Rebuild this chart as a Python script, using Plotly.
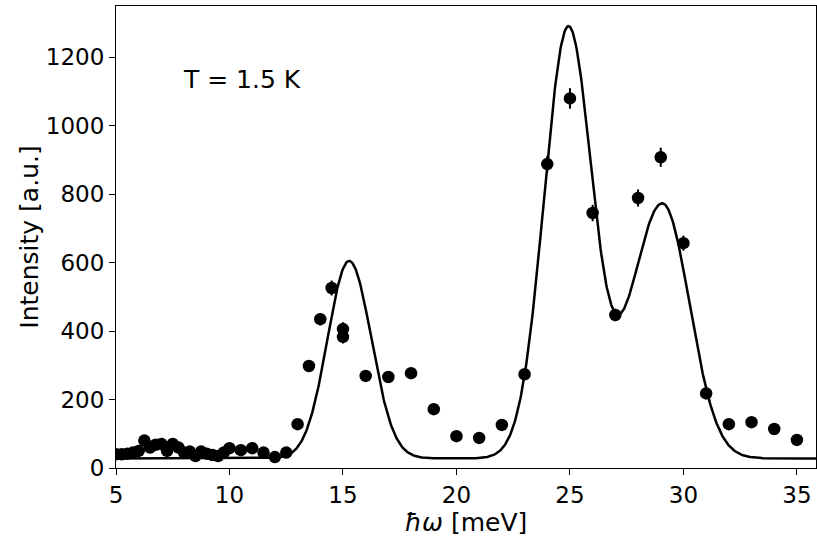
import numpy as np
import plotly.graph_objects as go

# Measured data (energy transfer in meV, intensity in a.u., error)
energy = [5.0, 5.25, 5.5, 5.75, 6.0, 6.25, 6.5, 6.75, 7.0, 7.25, 7.5, 7.75,
          8.0, 8.25, 8.5, 8.75, 9.0, 9.25, 9.5, 9.75, 10.0, 10.5, 11.0, 11.5,
          12.0, 12.5, 13.0, 13.5, 14.0, 14.5, 15.0, 15.0, 16.0, 17.0, 18.0,
          19.0, 20.0, 21.0, 22.0, 23.0, 24.0, 25.0, 26.0, 27.0, 28.0, 29.0,
          30.0, 31.0, 32.0, 33.0, 34.0, 35.0]
intensity = [40, 40, 42, 45, 50, 80, 60, 68, 70, 50, 70, 60,
             45, 48, 35, 48, 42, 38, 35, 45, 58, 52, 58, 45,
             32, 45, 128, 298, 435, 526, 406, 383, 269, 266, 277,
             172, 93, 88, 126, 274, 888, 1080, 745, 447, 789, 908,
             657, 218, 128, 134, 114, 82]
error = [6, 6, 6, 6, 7, 9, 8, 8, 8, 7, 8, 8,
         7, 7, 6, 7, 6, 6, 6, 7, 8, 7, 8, 7,
         6, 7, 11, 15, 18, 22, 20, 19, 14, 14, 14,
         11, 8, 8, 10, 14, 24, 30, 24, 18, 25, 28,
         22, 13, 10, 10, 9, 8]

# Fit model: constant background + (split) Gaussian peaks
background = 28
peak_centers = [15.27, 24.92, 29.07]
peak_amplitudes = [577, 1255, 745]
peak_sigmas_left = [0.95, 1.06, 1.38]
peak_sigmas_right = [0.98, 1.06, 1.2]

x_fit = np.linspace(5, 36, 1000)
y_fit = np.full_like(x_fit, background, dtype=float)
for c, a, sl, sr in zip(peak_centers, peak_amplitudes, peak_sigmas_left, peak_sigmas_right):
    s = np.where(x_fit < c, sl, sr)
    y_fit += a * np.exp(-(x_fit - c) ** 2 / (2 * s ** 2))

x_ticks = [5, 10, 15, 20, 25, 30, 35]
y_ticks = [0, 200, 400, 600, 800, 1000, 1200]

FONT = "DejaVu Sans"

fig = go.Figure()
fig.add_trace(go.Scatter(
    x=energy, y=intensity, mode="markers",
    marker=dict(color="black", size=12.5),
    error_y=dict(type="data", array=error, color="black", thickness=2, width=0),
    showlegend=False,
))
fig.add_trace(go.Scatter(
    x=x_fit, y=y_fit, mode="lines",
    line=dict(color="black", width=2.5),
    showlegend=False,
))

fig.add_annotation(
    x=7.93, y=1088, xref="x", yref="y", text="T = 1.5 K", showarrow=False,
    xanchor="left", yanchor="bottom", xshift=-2,
    font=dict(family=FONT, size=25, color="black"),
)

axis_common = dict(
    showgrid=False, zeroline=False, showline=True, linecolor="black",
    linewidth=1, mirror=True, ticks="outside", ticklen=6, tickcolor="black",
    tickfont=dict(family=FONT, size=23, color="black"), automargin=False,
)
fig.update_xaxes(
    range=[5, 35.84], tickvals=x_ticks, ticktext=[str(v) for v in x_ticks],
    title=dict(text="<i>ħω</i> [meV]", font=dict(family=FONT, size=25, color="black"), standoff=0),
    **axis_common,
)
fig.update_yaxes(
    range=[0, 1350], tickvals=y_ticks, ticktext=[str(v) for v in y_ticks],
    title=dict(text="Intensity [a.u.]", font=dict(family=FONT, size=25, color="black"), standoff=0),
    **axis_common,
)
fig.update_layout(
    width=817, height=538,
    margin=dict(l=116, r=1, t=6, b=70),
    plot_bgcolor="white", paper_bgcolor="white",
)
fig.write_html("out.html", config={"displayModeBar": False},
               post_script="document.body.style.margin='0';")
